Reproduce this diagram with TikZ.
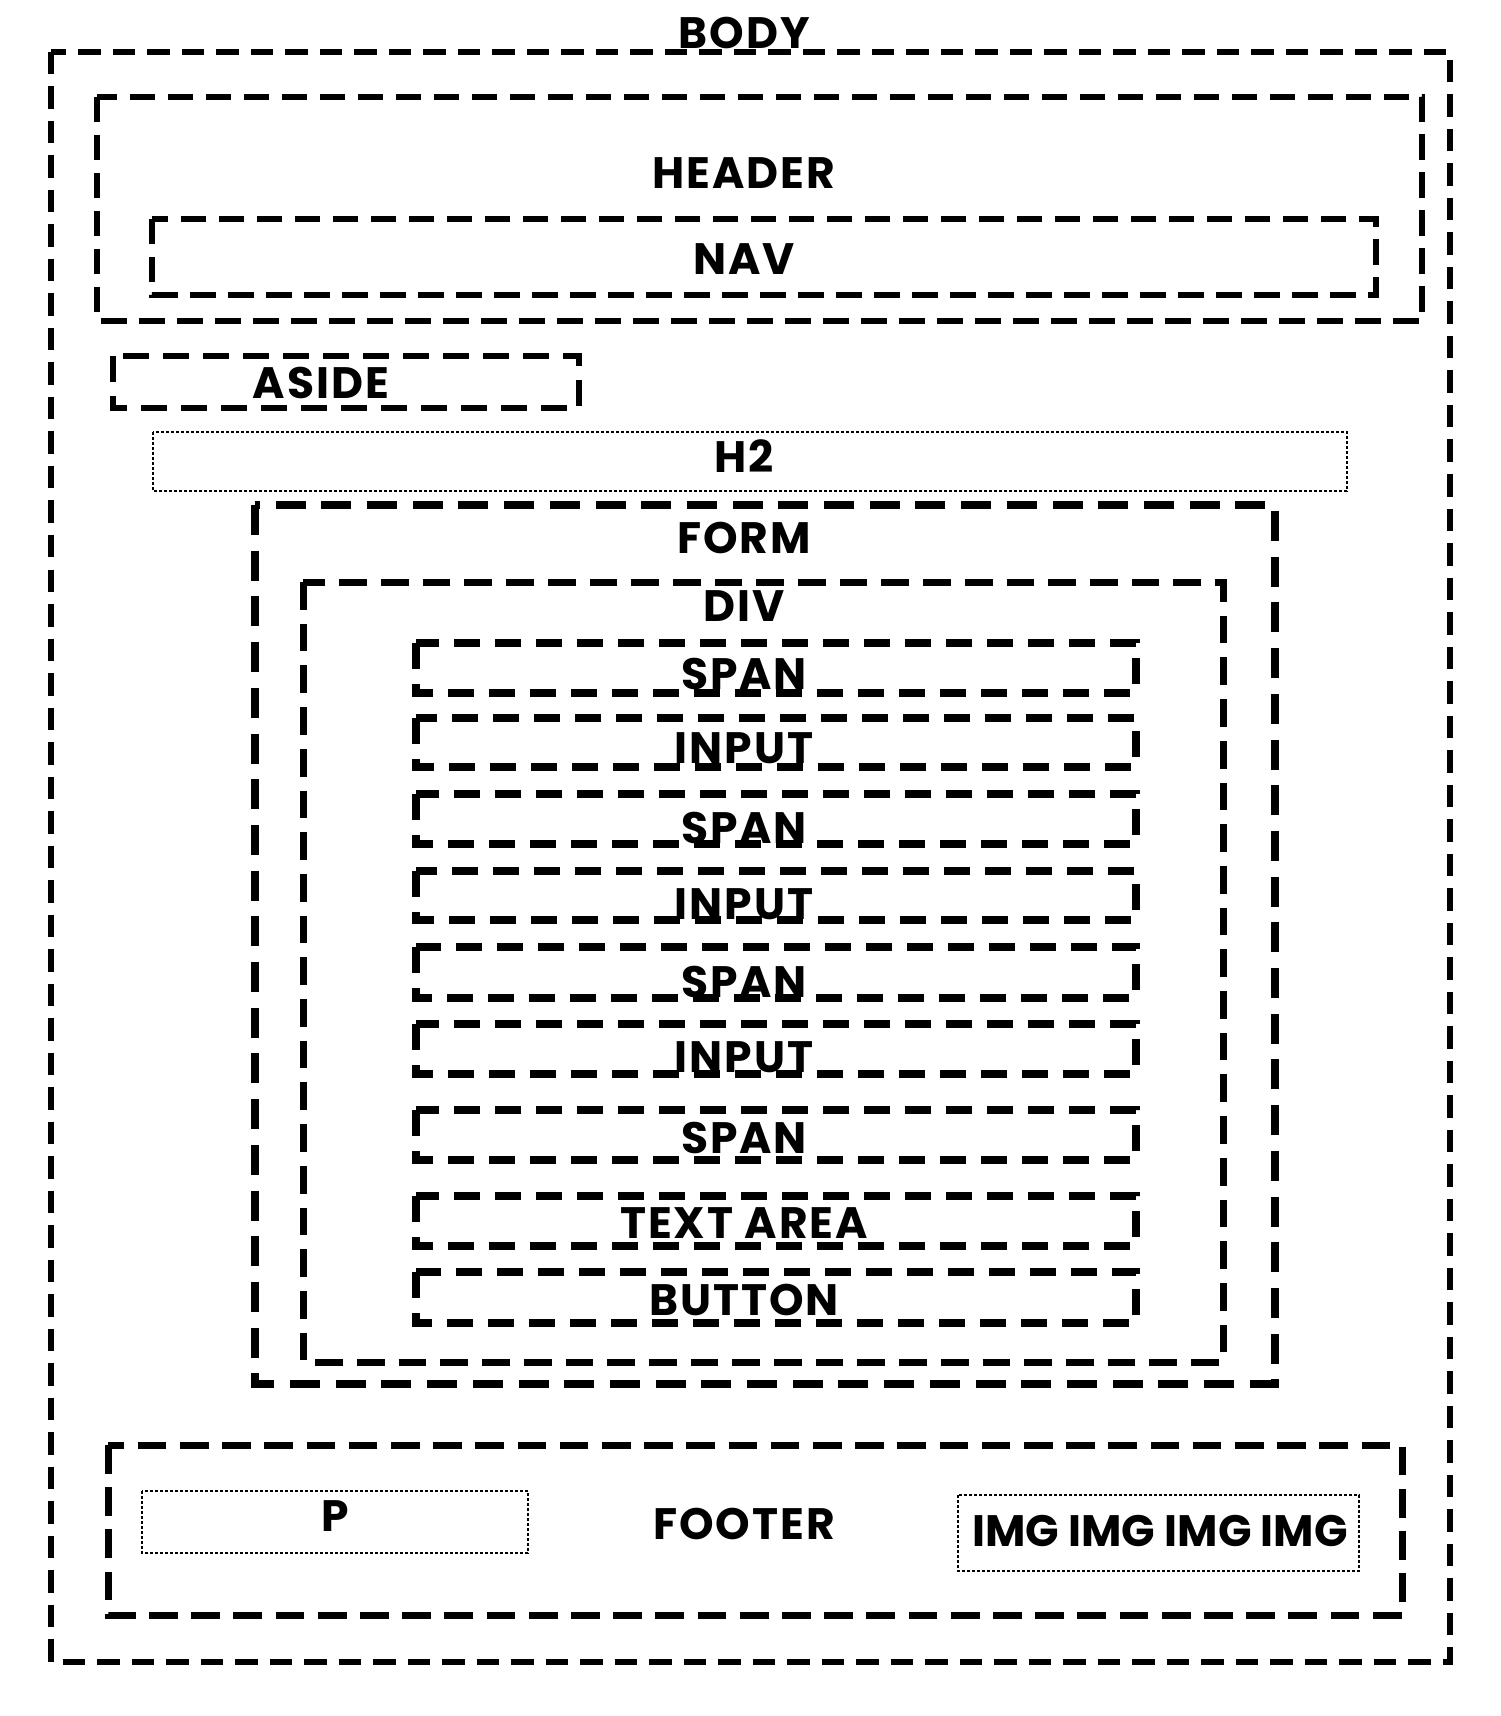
\documentclass[tikz,border=0pt]{standalone}
\usepackage{fontspec}
\setmainfont{Poppins}
\begin{document}
\begin{tikzpicture}[x=0.5pt,y=-0.5pt,
  bodybox/.style={draw=black, line width=2.75pt, dash pattern=on 11.25pt off 6pt},
  headbox/.style={draw=black, line width=3pt, dash pattern=on 12.75pt off 6.25pt},
  asidebox/.style={draw=black, line width=3.2pt, dash pattern=on 13pt off 7pt},
  formbox/.style={draw=black, line width=3.75pt, dash pattern=on 15pt off 7.85pt},
  divbox/.style={draw=black, line width=3.5pt, dash pattern=on 13.85pt off 7pt},
  rowbox/.style={draw=black, line width=3.6pt, dash pattern=on 12.85pt off 7.65pt},
  footbox/.style={draw=black, line width=3.5pt, dash pattern=on 14.35pt off 6.75pt},
  thinbox/.style={draw=black, line width=0.55pt, dash pattern=on 1.5pt off 1pt},
  lbl/.style={font={\bfseries\fontsize{22}{26}\selectfont\addfontfeatures{LetterSpace=4.5}}, inner sep=0pt, anchor=center},
  imglbl/.style={font={\bfseries\fontsize{22}{26}\selectfont}, inner sep=0pt, anchor=center}
]
\useasboundingbox[fill=white] (0,0) rectangle (1500,1716);
% boxes
\draw[bodybox] (51,52) rectangle (1450,1662);
\draw[headbox] (97,97) rectangle (1422,321);
\draw[headbox] (152,219) rectangle (1376,295);
\draw[asidebox] (113,356) rectangle (579,408);
\draw[thinbox] (153,432) rectangle (1347,491);
\draw[formbox] (255,505) rectangle (1275,1384);
\draw[divbox] (303,582) rectangle (1223,1362);
\draw[rowbox] (416,643) rectangle (1136,693);
\draw[rowbox] (416,718) rectangle (1136,767);
\draw[rowbox] (416,794) rectangle (1136,844);
\draw[rowbox] (416,871) rectangle (1136,920);
\draw[rowbox] (416,947) rectangle (1136,998);
\draw[rowbox] (416,1024) rectangle (1136,1074);
\draw[rowbox] (416,1110) rectangle (1136,1160);
\draw[rowbox] (416,1196) rectangle (1136,1246);
\draw[rowbox] (416,1272) rectangle (1136,1323);
\draw[footbox] (108,1445) rectangle (1402,1615);
\draw[thinbox] (142,1491) rectangle (528,1553);
\draw[thinbox] (958,1495) rectangle (1359,1571);
% labels
\node[lbl] (body) at (744,33) {BODY};
\node[lbl] (header) at (744,173) {HEADER};
\node[lbl] (nav) at (744,259) {NAV};
\node[lbl] (aside) at (321,383) {ASIDE};
\node[lbl] (h2) at (744,456) {H2};
\node[lbl] (form) at (744,538) {FORM};
\node[lbl] (div) at (744,606) {DIV};
\node[lbl] (span1) at (744,674) {SPAN};
\node[lbl] (input1) at (744,748) {INPUT};
\node[lbl] (span2) at (744,828) {SPAN};
\node[lbl] (input2) at (744,904) {INPUT};
\node[lbl] (span3) at (744,982) {SPAN};
\node[lbl] (input3) at (744,1057) {INPUT};
\node[lbl] (span4) at (744,1138) {SPAN};
\node[lbl] (textarea) at (744,1223) {TEXT AREA};
\node[lbl] (button) at (744,1300) {BUTTON};
\node[lbl] (footer) at (744,1524) {FOOTER};
\node[lbl] (p) at (335,1516) {P};
\node[imglbl] (img) at (1160,1531) {IMG IMG IMG IMG};
\end{tikzpicture}
\end{document}
